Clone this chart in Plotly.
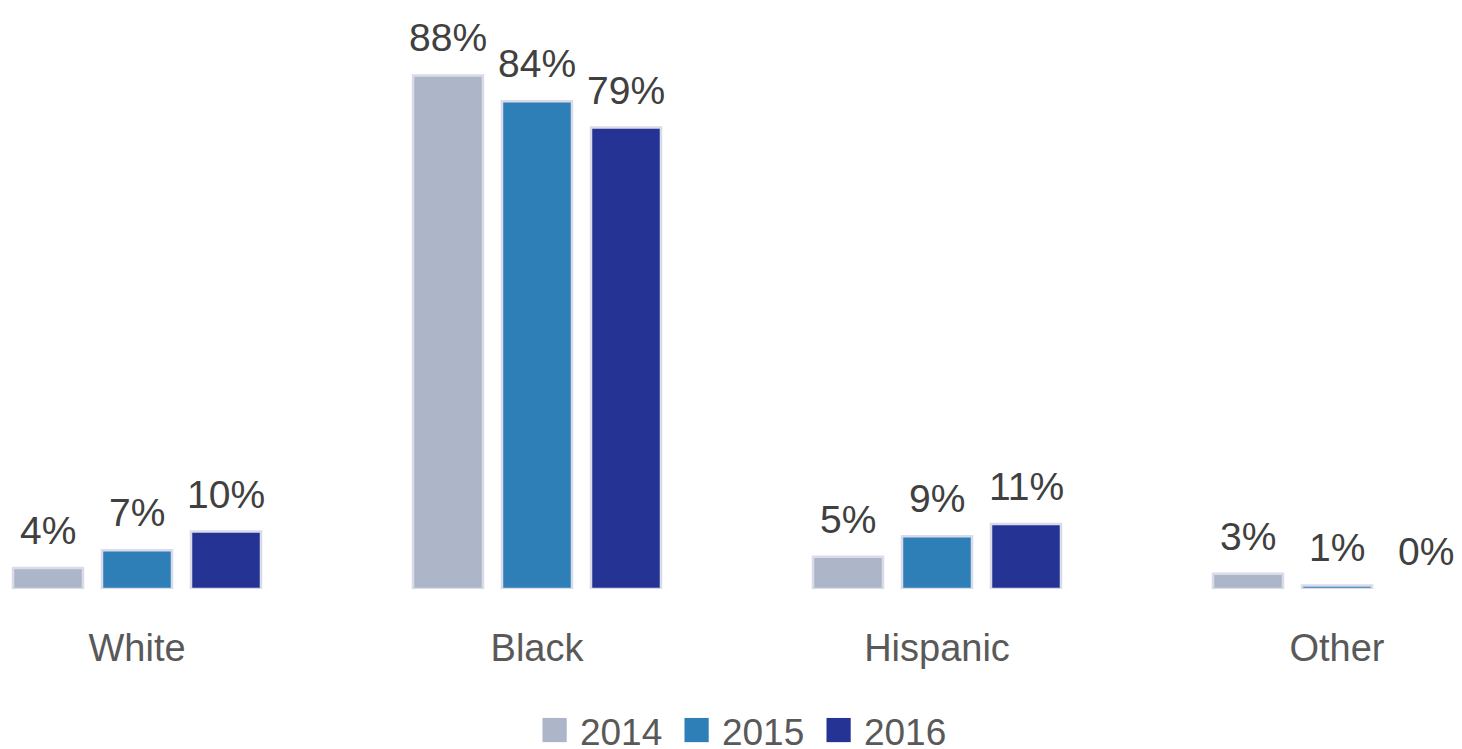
import plotly.graph_objects as go

categories = ["White", "Black", "Hispanic", "Other"]
years = ["2014", "2015", "2016"]
values_2014 = [3.6, 87.6, 5.5, 2.6]
values_2015 = [6.6, 83.2, 9.0, 0.6]
values_2016 = [9.8, 78.7, 11.1, 0.0]
labels_2014 = ["4%", "88%", "5%", "3%"]
labels_2015 = ["7%", "84%", "9%", "1%"]
labels_2016 = ["10%", "79%", "11%", "0%"]
colors = ["#adb6c9", "#2e7fb8", "#253494"]

series = [values_2014, values_2015, values_2016]
labels = [labels_2014, labels_2015, labels_2016]

BARGAP = 0.3325
BARGROUPGAP = 0.2135
FONT = "Liberation Sans, Arial, sans-serif"
xpos = list(range(len(categories)))

fig = go.Figure()
for j, (yr, vals, col) in enumerate(zip(years, series, colors)):
    fig.add_trace(go.Bar(
        x=xpos, y=vals, name=yr,
        marker=dict(color=col, line=dict(color="#d9dbe9",
                                         width=[0 if v == 0 else 2.5 for v in vals])),
        showlegend=False, hoverinfo="skip"))
    fig.add_trace(go.Scatter(
        x=[None], y=[None], mode="markers",
        name=f"<span style='color:{col};font-size:50px'>■</span> {yr}",
        marker=dict(symbol="square", size=1, color="rgba(0,0,0,0)")))
# spacer entry so the last legend item is not clipped
fig.add_trace(go.Scatter(x=[None], y=[None], mode="markers", name=" ",
                         marker=dict(size=1, color="rgba(0,0,0,0)")))

slot = (1 - BARGAP) / len(years)
annotations = []
for j, (vals, labs) in enumerate(zip(series, labels)):
    for i, (v, t) in enumerate(zip(vals, labs)):
        annotations.append(dict(
            x=i + (j - 1) * slot, y=v, xref="x", yref="y", text=t, showarrow=False,
            yanchor="bottom", xanchor="center", yshift=14,
            font=dict(family=FONT, size=39, color="#404040")))

fig.update_layout(
    width=1454, height=741,
    barmode="group", bargap=BARGAP, bargroupgap=BARGROUPGAP,
    plot_bgcolor="white", paper_bgcolor="white",
    margin=dict(l=0, r=0, t=0, b=160),
    annotations=annotations,
    xaxis=dict(range=[-0.3225, 3.3125], tickvals=xpos, ticktext=categories,
               showgrid=False, zeroline=False, showline=False, ticks="",
               ticklabelstandoff=33,
               tickfont=dict(family=FONT, size=38, color="#595959")),
    yaxis=dict(range=[0, 99.1], visible=False, showgrid=False, zeroline=False),
    legend=dict(orientation="h", x=0.338, xanchor="left", yref="container", y=0.0243,
                yanchor="middle", font=dict(family=FONT, size=37, color="#595959"),
                itemwidth=30, tracegroupgap=0, entrywidth=97),
)

fig.write_html("out.html")
